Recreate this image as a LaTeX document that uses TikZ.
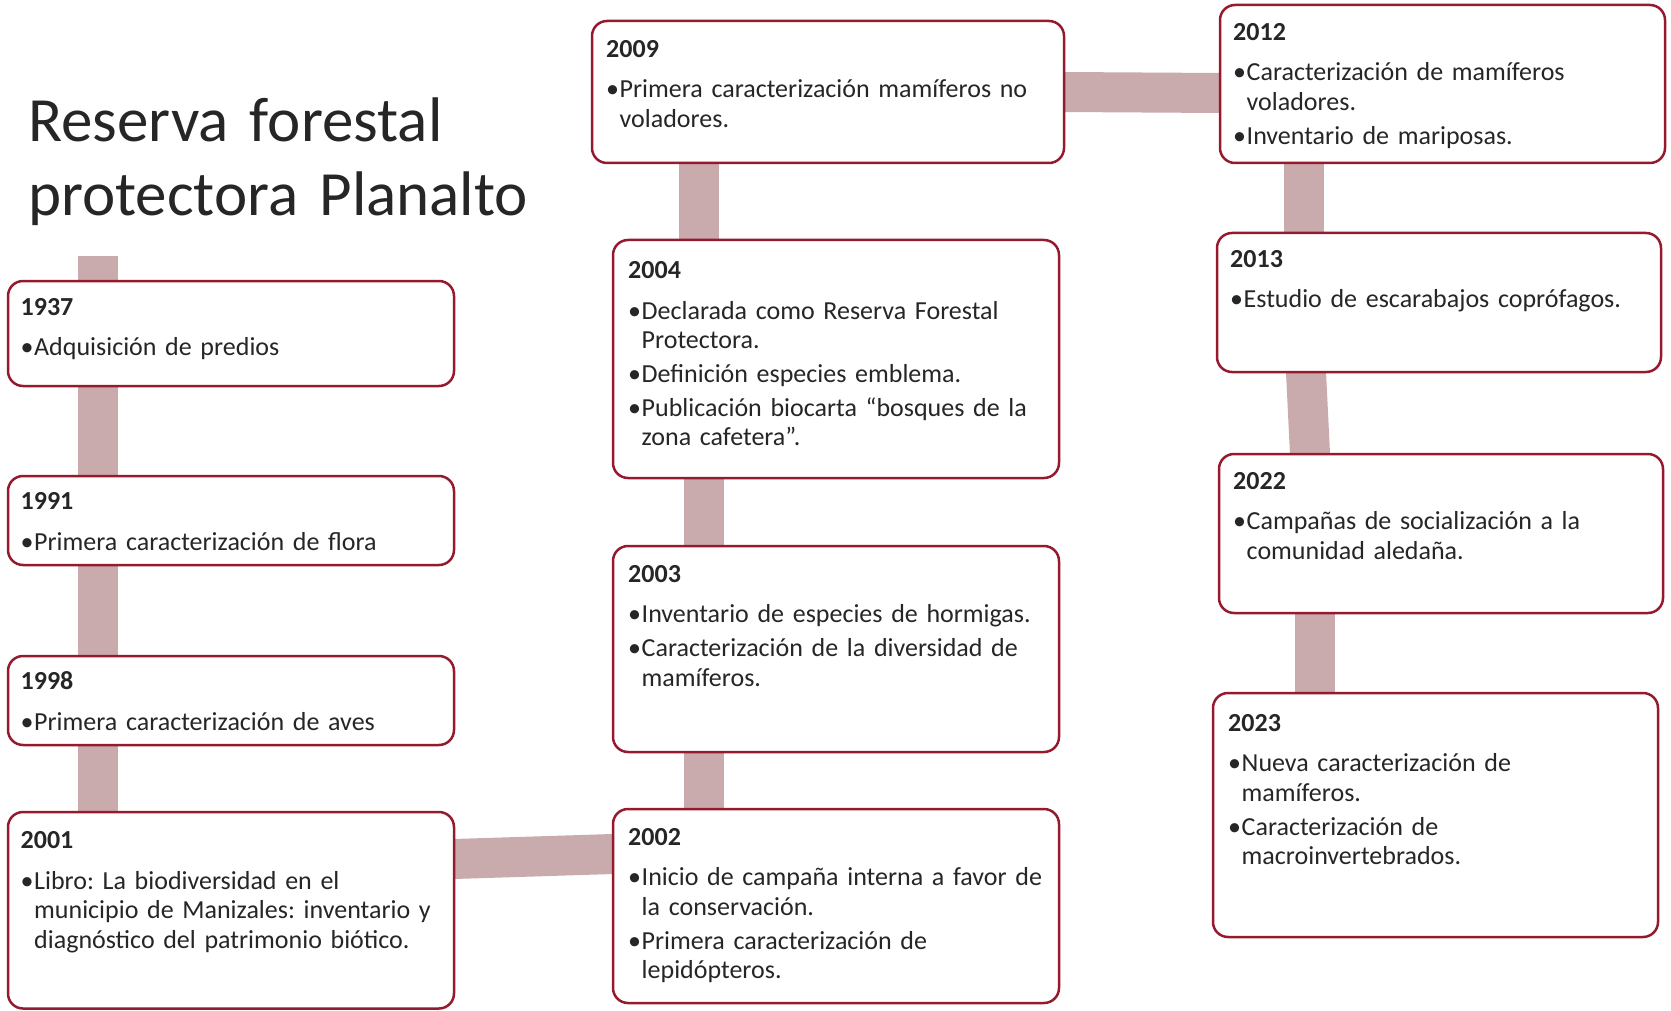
\documentclass[tikz,border=0pt]{standalone}
\usepackage{fontspec}
\setmainfont{Carlito}
\usetikzlibrary{calc,backgrounds}
\definecolor{boxred}{RGB}{150,26,46}
\definecolor{conncol}{RGB}{202,171,173}
\definecolor{txtcol}{RGB}{38,38,38}
\newcommand\tlb{\makebox[13.5pt][l]{•}}
\newcommand\tli{\hspace*{13.5pt}}
\newcommand\mkbox[5]{\node[tlbox, minimum width={#4-#2}, minimum height={#5-#3}] (#1) at (#2,#3) {};}
\tikzset{
  tlbox/.style={draw=boxred, line width=2.5pt, rounded corners=15pt, fill=white, inner sep=0pt, outer sep=0pt, anchor=north west},
  conn/.style={draw=conncol, line width=40pt, line cap=butt},
  txt/.style={anchor=base west, inner sep=0pt, text width=480pt, align=left, text=txtcol, font=\fontsize{26}{29.5}\selectfont\frenchspacing},
  ttl/.style={anchor=base west, inner sep=0pt, text width=700pt, align=left, text=txtcol, font=\fontsize{63}{74}\selectfont\frenchspacing}
}
\begin{document}
\begin{tikzpicture}[x=1pt,y=-1pt]
\useasboundingbox (0,0) rectangle (1671,1011);
% title
\node[ttl] (title) at (28,142) {Reserva forestal\\protectora Planalto};
% boxes
\mkbox{b1937}{8}{281}{454}{386}
\mkbox{b1991}{8}{476}{454}{565}
\mkbox{b1998}{8}{656}{454}{745}
\mkbox{b2001}{8}{812}{454}{1008.5}
\mkbox{b2009}{592}{21}{1064}{163}
\mkbox{b2004}{613}{240}{1059}{478}
\mkbox{b2003}{613}{546}{1059}{752}
\mkbox{b2002}{613}{809}{1059}{1003}
\mkbox{b2012}{1220}{5}{1665}{163}
\mkbox{b2013}{1217}{233}{1661}{372}
\mkbox{b2022}{1219}{454}{1663}{613}
\mkbox{b2023}{1213}{693}{1658}{937}
% connectors
\coordinate (ltop) at (97.5,256);
\begin{pgfonlayer}{background}
\draw[conn] (ltop) -- (ltop |- b2001.north);
\draw[conn] (b2001.east |- 0,859) -- (b2002.west |- 0,854);
\draw[conn] (b2002.north -| 703.5,0) -- (b2004.south -| 703.5,0);
\draw[conn] (b2004.north -| 699,0) -- (b2009.south -| 699,0);
\draw[conn] (b2009.east |- 0,92) -- (b2012.west |- 0,93);
\draw[conn] (b2012.south -| 1303.5,0) -- (b2013.north -| 1303.5,0);
\draw[conn] (b2013.south -| 1306,0) -- (b2022.north -| 1310,0);
\draw[conn] (b2022.south -| 1314.5,0) -- (b2023.north -| 1314.5,0);
\end{pgfonlayer}
% texts
\node[txt] (t1937) at ($(b1937.north west)+(12.5,34)$) {\textbf{1937}\\[11pt]\tlb Adquisición de predios};
\node[txt] (t1991) at ($(b1991.north west)+(12.5,33.5)$) {\textbf{1991}\\[11pt]\tlb Primera caracterización de flora};
\node[txt] (t1998) at ($(b1998.north west)+(12.5,33.5)$) {\textbf{1998}\\[11pt]\tlb Primera caracterización de aves};
\node[txt] (t2001) at ($(b2001.north west)+(12.5,36.5)$) {\textbf{2001}\\[11pt]\tlb Libro: La biodiversidad en el\\\tli municipio de Manizales: inventario y\\\tli diagnóstico del patrimonio biótico.};
\node[txt] (t2009) at ($(b2009.north west)+(14,36.5)$) {\textbf{2009}\\[11pt]\tlb Primera caracterización mamíferos no\\\tli voladores.};
\node[txt] (t2004) at ($(b2004.north west)+(15,38.5)$) {\textbf{2004}\\[11pt]\tlb Declarada como Reserva Forestal\\\tli Protectora.\\[4.5pt]\tlb Definición especies emblema.\\[4.5pt]\tlb Publicación biocarta “bosques de la\\\tli zona cafetera”.};
\node[txt] (t2003) at ($(b2003.north west)+(15,36)$) {\textbf{2003}\\[11pt]\tlb Inventario de especies de hormigas.\\[4.5pt]\tlb Caracterización de la diversidad de\\\tli mamíferos.};
\node[txt] (t2002) at ($(b2002.north west)+(15,36)$) {\textbf{2002}\\[11pt]\tlb Inicio de campaña interna a favor de\\\tli la conservación.\\[4.5pt]\tlb Primera caracterización de\\\tli lepidópteros.};
\node[txt] (t2012) at ($(b2012.north west)+(13,35.5)$) {\textbf{2012}\\[11pt]\tlb Caracterización de mamíferos\\\tli voladores.\\[4.5pt]\tlb Inventario de mariposas.};
\node[txt] (t2013) at ($(b2013.north west)+(13,34)$) {\textbf{2013}\\[11pt]\tlb Estudio de escarabajos coprófagos.};
\node[txt] (t2022) at ($(b2022.north west)+(14,35)$) {\textbf{2022}\\[11pt]\tlb Campañas de socialización a la\\\tli comunidad aledaña.};
\node[txt] (t2023) at ($(b2023.north west)+(15,38)$) {\textbf{2023}\\[11pt]\tlb Nueva caracterización de\\\tli mamíferos.\\[4.5pt]\tlb Caracterización de\\\tli macroinvertebrados.};
\end{tikzpicture}
\end{document}
